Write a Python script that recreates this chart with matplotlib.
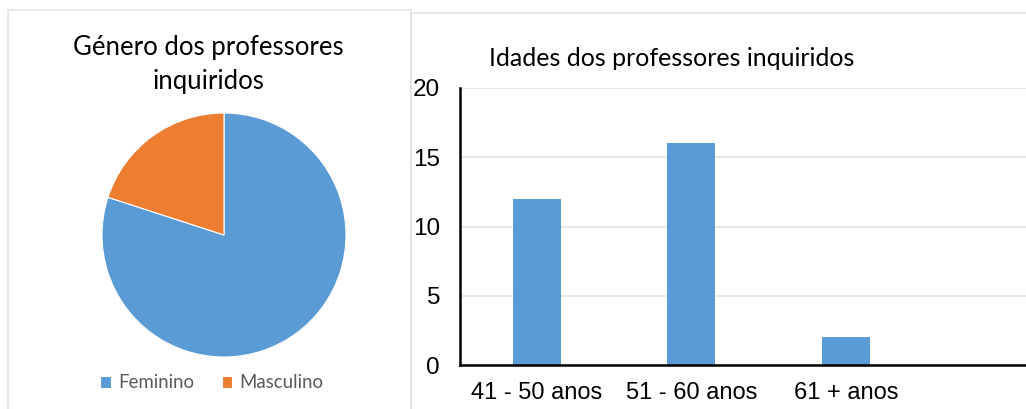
import matplotlib.pyplot as plt
from matplotlib.patches import Rectangle

# dados
generos = ["Feminino", "Masculino"]
n_generos = [24, 6]
idades = ["41 - 50 anos", "51 - 60 anos", "61 + anos"]
n_idades = [12, 16, 2]

AZUL = "#5B9BD5"
LARANJA = "#ED7D31"

fig = plt.figure(figsize=(10.26, 4.09), dpi=100)
fig.patch.set_facecolor("white")

# caixas dos dois gráficos
fig.patches.append(Rectangle((8 / 1026, -0.05), 403 / 1026, 1 - 10 / 409 + 0.05,
                             transform=fig.transFigure, fill=False,
                             edgecolor="#e3e3e3", lw=1.2))
fig.patches.append(Rectangle((411 / 1026, -0.05), 0.7, 1 - 13 / 409 + 0.05,
                             transform=fig.transFigure, fill=False,
                             edgecolor="#e3e3e3", lw=1.2))

# pie
ax1 = fig.add_axes([102 / 1026, 1 - 357 / 409, 244 / 1026, 244 / 409])
wedges, _ = ax1.pie(n_generos, colors=[AZUL, LARANJA], startangle=90,
                    counterclock=False, radius=1,
                    wedgeprops=dict(edgecolor="white", linewidth=0.8))
ax1.set_xlim(-1, 1)
ax1.set_ylim(-1, 1)
ax1.set_aspect("equal")
fig.text(208 / 1026, 1 - 64 / 409, "Género dos professores\ninquiridos",
         ha="center", va="center", fontsize=18.5, family="Lato",
         linespacing=1.45, color="black")
fig.legend(wedges, generos, loc="center", bbox_to_anchor=(212 / 1026, 1 - 383 / 409),
           ncol=2, frameon=False, handlelength=0.55, handleheight=0.55,
           handletextpad=0.4, columnspacing=1.5,
           prop=dict(family="Lato", size=13.4), labelcolor="#595959")

# barras
ax2 = fig.add_axes([459.5 / 1026, 1 - 365 / 409, 1 - 459.5 / 1026, (365 - 88) / 409])
x = range(len(idades))
ax2.bar(x, n_idades, width=0.31, color=AZUL, zorder=3)
ax2.set_xlim(-0.5, -0.5 + (1026 - 459.5) / 154.5)
ax2.set_ylim(0, 20)
ax2.set_yticks([0, 5, 10, 15, 20])
ax2.set_xticks(list(x))
ax2.set_xticklabels(idades)
ax2.grid(axis="y", color="#e6e6e6", lw=1.3, zorder=0)
for s in ["top", "right"]:
    ax2.spines[s].set_visible(False)
for s in ["left", "bottom"]:
    ax2.spines[s].set_linewidth(1.8)
    ax2.spines[s].set_color("black")
    ax2.spines[s].set_zorder(4)
ax2.tick_params(length=0)
ax2.tick_params(axis="y", pad=14, labelsize=17.5)
ax2.tick_params(axis="x", pad=12, labelsize=17)
for lab in ax2.get_xticklabels() + ax2.get_yticklabels():
    lab.set_family("Liberation Sans")
fig.text(672 / 1026, 1 - 59 / 409, "Idades dos professores inquiridos",
         ha="center", va="center", fontsize=18, family="Lato", color="black")

fig.savefig("out.png", dpi=100, facecolor="white")
